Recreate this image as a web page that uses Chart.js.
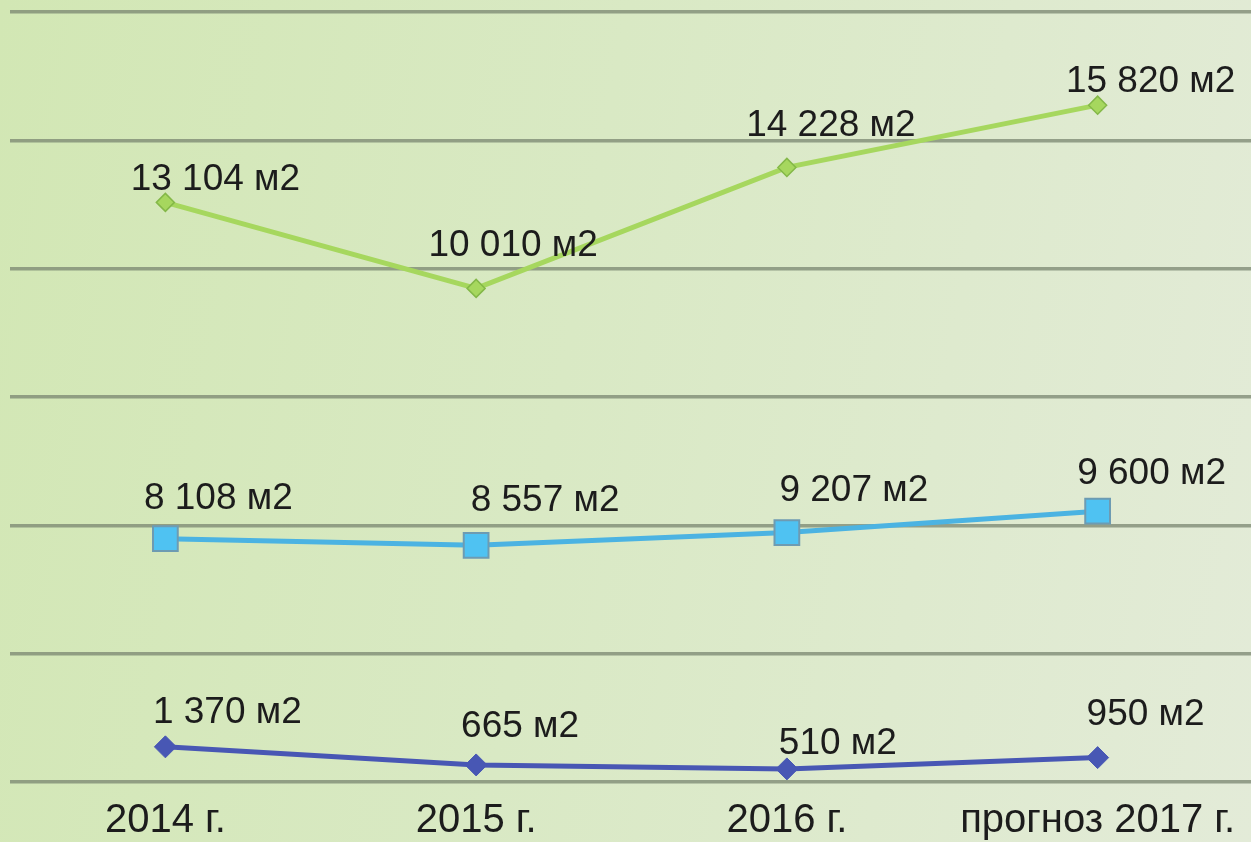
<!DOCTYPE html>
<html>
<head>
<meta charset="utf-8">
<script src="https://cdn.jsdelivr.net/npm/chart.js@4"></script>
<style>
    html, body {
        margin: 0;
        padding: 0;
        width: 1251px;
        height: 842px;
        overflow: hidden;
    }
    body {
        background: linear-gradient(100deg, #d2e7b4 0%, #d9e9c4 45%, #e3ebd8 100%);
    }
    #wrap {
        position: relative;
        width: 1253px;
        height: 842px;
    }
</style>
</head>
<body>
<div id="wrap"><canvas id="area-chart"></canvas></div>
<script>
// ========================================
// Data
// ========================================
const years = ['2014 г.', '2015 г.', '2016 г.', 'прогноз 2017 г.'];
const bottomSeries = [1370, 665, 510, 950];
const middleSeries = [8108, 8557, 9207, 9600];
const topSeries = [13104, 10010, 14228, 15820];
const yTicks = [0, 5000, 10000, 15000, 20000, 25000, 30000];

const colors = {
    dark: '#4857b4',
    light: '#4bb3e2',
    lightFill: '#4fc2f2',
    green: '#a6d75e',
    greenEdge: '#84b848',
    grid: 'rgba(122, 134, 112, 0.75)',
    text: '#1c1c1c'
};

Chart.defaults.font.family = "'Liberation Sans', Arial, sans-serif";
Chart.defaults.plugins.legend.display = false;
Chart.defaults.plugins.tooltip.enabled = false;

function fmt(v) {
    return String(v).replace(/\B(?=(\d{3})+(?!\d))/g, ' ') + ' м2';
}

// labels sit above-right of each point, nudged like the original
const pointLabels = {
    id: 'pointLabels',
    afterDatasetsDraw(chart) {
        const ctx = chart.ctx;
        ctx.save();
        ctx.font = "37px 'Liberation Sans', Arial, sans-serif";
        ctx.fillStyle = colors.text;
        ctx.textAlign = 'center';
        ctx.textBaseline = 'alphabetic';
        chart.data.datasets.forEach((ds, i) => {
            const meta = chart.getDatasetMeta(i);
            meta.data.forEach((pt, j) => {
                const n = ds.nudge[j];
                ctx.fillText(fmt(ds.data[j]), pt.x + n[0], pt.y - n[1]);
            });
        });
        ctx.restore();
    }
};

function noPad(axis) {
    axis.paddingLeft = 0;
    axis.paddingRight = 0;
    axis.paddingTop = 0;
    axis.paddingBottom = 0;
}

new Chart(document.getElementById('area-chart'), {
    type: 'line',
    data: {
        labels: years,
        datasets: [
            {
                data: bottomSeries,
                borderColor: colors.dark,
                backgroundColor: colors.dark,
                borderWidth: 5,
                pointStyle: 'rectRot',
                pointRadius: 11,
                pointBorderWidth: 1,
                fill: false,
                nudge: [[62, 24], [44, 28], [51, 15], [48, 33]]
            },
            {
                data: middleSeries,
                borderColor: colors.light,
                backgroundColor: colors.lightFill,
                borderWidth: 5,
                pointStyle: 'rect',
                pointRadius: 17.5,
                pointBorderColor: '#6d9bb2',
                pointBorderWidth: 2,
                fill: false,
                nudge: [[53, 30], [69, 34], [67, 32], [54, 27]]
            },
            {
                data: topSeries,
                borderColor: colors.green,
                backgroundColor: colors.green,
                borderWidth: 5,
                pointStyle: 'rectRot',
                pointRadius: 9,
                pointBorderColor: colors.greenEdge,
                pointBorderWidth: 1.5,
                fill: false,
                nudge: [[50, 12], [37, 32], [44, 31], [53, 13]]
            }
        ]
    },
    options: {
        responsive: true,
        maintainAspectRatio: false,
        animation: false,
        elements: { line: { tension: 0 } },
        layout: { autoPadding: false, padding: { left: 10, top: 12, right: 0, bottom: 0 } },
        scales: {
            x: {
                offset: true,
                grid: { display: false },
                border: { display: false },
                afterFit: (axis) => { axis.height = 60; noPad(axis); },
                ticks: {
                    color: colors.text,
                    font: { size: 40 },
                    padding: 7,
                    maxRotation: 0
                }
            },
            y: {
                stacked: true,
                min: yTicks[0],
                max: yTicks[yTicks.length - 1],
                afterBuildTicks: (axis) => { axis.ticks = yTicks.map(v => ({ value: v })); },
                afterFit: (axis) => { axis.width = 0; noPad(axis); },
                grid: { color: colors.grid, lineWidth: 3.5, drawTicks: false },
                border: { display: false },
                ticks: { display: false }
            }
        }
    },
    plugins: [pointLabels]
});
</script>
</body>
</html>
